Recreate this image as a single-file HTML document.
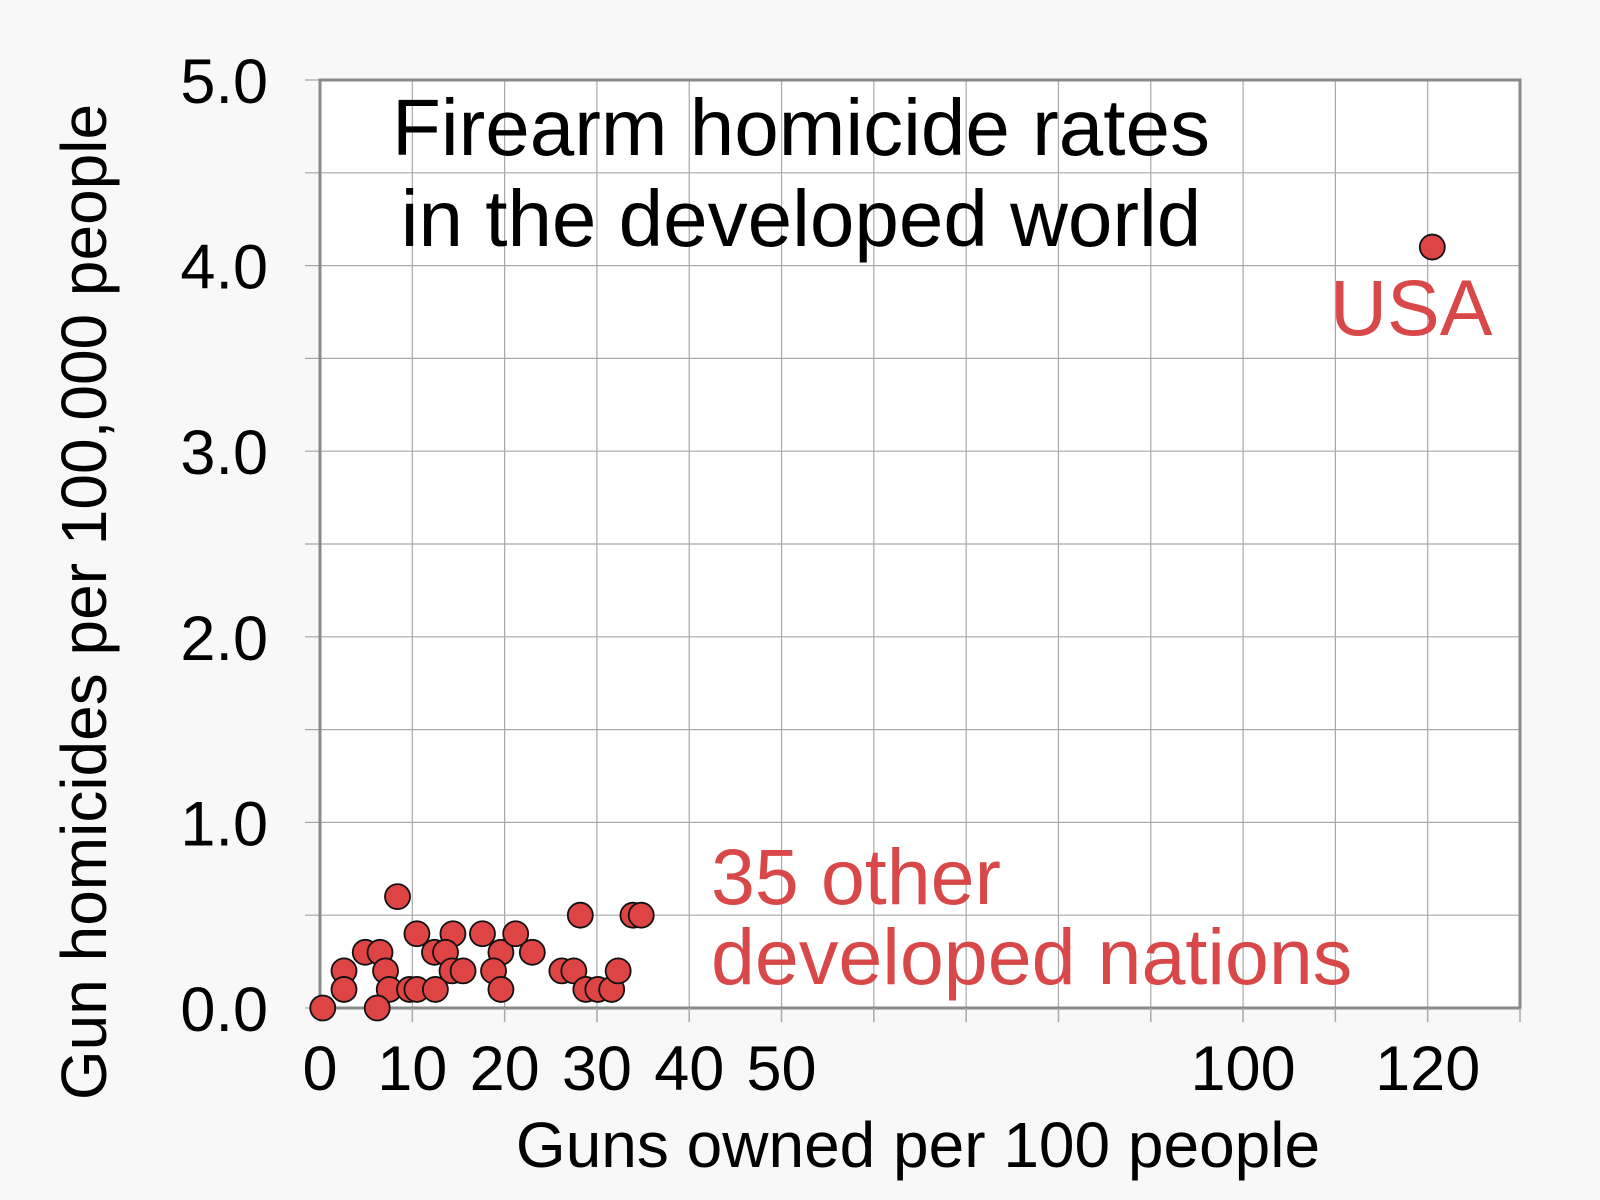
<!DOCTYPE html>
<html><head><meta charset="utf-8">
<style>
html,body{margin:0;padding:0;background:#f8f8f8;}
svg{display:block;font-family:"Liberation Sans",sans-serif;}
</style></head>
<body>
<svg id="chart" width="1600" height="1200" viewBox="0 0 1600 1200">
<rect x="0" y="0" width="1600" height="1200" fill="#f8f8f8"/>
<rect x="320" y="80" width="1200" height="928" fill="#ffffff"/>
<g id="grid"></g>
<rect x="320" y="80" width="1200" height="928" fill="none" stroke="#8a8a8a" stroke-width="3"/>
<g id="ticks"></g>
<g id="points"></g>
<text x="801" y="155" font-size="80" text-anchor="middle" fill="#000">Firearm homicide rates</text>
<text x="801" y="246" font-size="80" text-anchor="middle" fill="#000">in the developed world</text>
<text x="1330" y="335" font-size="79" fill="#d94848">USA</text>
<text x="711" y="904" font-size="79" fill="#d94848">35 other</text>
<text x="711" y="984" font-size="79" fill="#d94848">developed nations</text>
<text x="918" y="1167" font-size="64" text-anchor="middle" fill="#000">Guns owned per 100 people</text>
<text transform="translate(106,602) rotate(-90)" font-size="64" text-anchor="middle" fill="#000">Gun homicides per 100,000 people</text>
</svg>
<script>
const guns = [0.3,8.4,2.6,2.6,4.9,6.5,7.1,7.5,6.2,9.7,10.5,12.5,10.5,14.4,12.4,13.6,14.3,15.5,17.6,19.6,18.8,19.6,21.2,23.0,26.2,27.5,28.2,28.8,30.1,31.6,32.3,33.9,34.8,120.5];
const homicides = [0.0,0.6,0.2,0.1,0.3,0.3,0.2,0.1,0.0,0.1,0.1,0.1,0.4,0.4,0.3,0.3,0.2,0.2,0.4,0.3,0.2,0.1,0.4,0.3,0.2,0.2,0.5,0.1,0.1,0.1,0.2,0.5,0.5,4.1];
const xTickValues = [0,10,20,30,40,50,100,120];
const yTickValues = [0,1,2,3,4,5];
const yTickLabels = ["0.0","1.0","2.0","3.0","4.0","5.0"];

const NS = "http://www.w3.org/2000/svg";
const X0 = 320, X1 = 1520, XMAX = 130;
const Y0 = 1008, Y1 = 80, YMAX = 5;
function xs(v){ return X0 + (X1 - X0) * v / XMAX; }
function ys(v){ return Y0 - (Y0 - Y1) * v / YMAX; }
function mk(tag, attrs){ const e = document.createElementNS(NS, tag); for (const k in attrs) e.setAttribute(k, attrs[k]); return e; }

const grid = document.getElementById('grid');
const ticks = document.getElementById('ticks');
for (let g = 0; g <= XMAX; g += 10) {
  const l = mk('line', {x1: xs(g), x2: xs(g), y1: Y1, y2: Y0, stroke: '#a8a8a8', 'stroke-width': 1.2});
  
  
  grid.appendChild(l);
  const t = mk('line', {x1: xs(g), x2: xs(g), y1: Y0, y2: Y0 + 14, stroke: '#a8a8a8', 'stroke-width': 1.5});
  
  
  ticks.appendChild(t);
}
for (let g = 0; g <= YMAX + 0.001; g += 0.5) {
  const l = mk('line', {x1: X0 - 15, x2: X1, y1: ys(g), y2: ys(g), stroke: '#a8a8a8', 'stroke-width': 1.2});
  
  
  grid.appendChild(l);
}
xTickValues.forEach(v => {
  const t = mk('text', {x: xs(v), y: 1090, 'font-size': 63, 'text-anchor': 'middle', fill: '#000'});
  t.textContent = String(v);
  
  
  ticks.appendChild(t);
});
yTickValues.forEach((v, i) => {
  const t = mk('text', {x: 268, y: ys(v) + 23, 'font-size': 63, 'text-anchor': 'end', fill: '#000'});
  t.textContent = yTickLabels[i];
  
  
  ticks.appendChild(t);
});
const pts = document.getElementById('points');
guns.forEach((g, i) => {
  const c = mk('circle', {cx: xs(g), cy: ys(homicides[i]), r: 12.5, fill: '#df4444', stroke: '#111', 'stroke-width': 1.8});
  
  
  pts.appendChild(c);
});
</script>
</body></html>
